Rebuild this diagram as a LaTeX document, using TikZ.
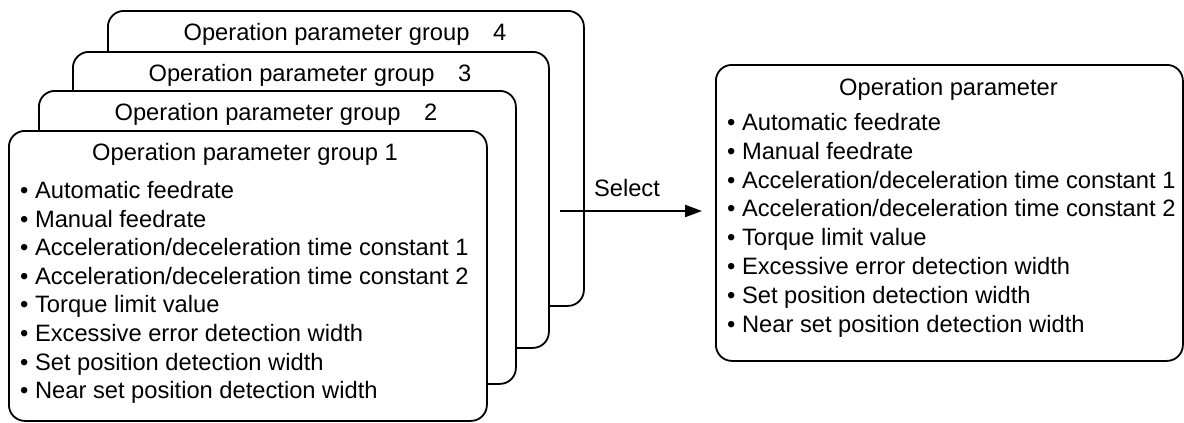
\documentclass[tikz,border=0pt]{standalone}
\usepackage{fontspec}
\setmainfont{Liberation Sans}
\usetikzlibrary{arrows.meta}
\begin{document}
\begin{tikzpicture}[x=1pt,y=-1pt,
  card/.style={draw, line width=1.8pt, rounded corners=16pt, fill=white, inner sep=0pt, anchor=north west},
  ttl/.style={anchor=base, inner sep=0pt, font=\fontsize{23.7}{28.7}\selectfont},
  itm/.style={anchor=base west, inner sep=0pt, font=\fontsize{23.7}{28.7}\selectfont},
  arr/.style={line width=2.2pt, -{Triangle[length=17pt,width=12pt]}}]
\useasboundingbox (0,0) rectangle (1184,423);
% stacked cards, back to front
\node[card, minimum width=476pt, minimum height=295pt] (g4) at (107,10) {};
\node[ttl] (t4) at (345,40) {Operation parameter group\hspace{1em}4};
\node[card, minimum width=476pt, minimum height=296pt] (g3) at (72,51) {};
\node[ttl] (t3) at (310,81) {Operation parameter group\hspace{1em}3};
\node[card, minimum width=477pt, minimum height=293pt] (g2) at (38,90) {};
\node[ttl] (t2) at (276,120) {Operation parameter group\hspace{1em}2};
\node[card, minimum width=478pt, minimum height=290pt] (g1) at (8,130) {};
\node[ttl] (t1) at (245,160) {Operation parameter group 1};
\foreach \txt [count=\i from 0] in {Automatic feedrate, Manual feedrate,
  Acceleration/deceleration time constant 1, Acceleration/deceleration time constant 2,
  Torque limit value, Excessive error detection width, Set position detection width,
  Near set position detection width}
  \node[itm] (a\i) at (20,{198.5+28.6*\i}) {• \txt};
% right card
\node[card, minimum width=467pt, minimum height=296pt] (op) at (715,64) {};
\node[ttl] (to) at (948.5,95) {Operation parameter};
\foreach \txt [count=\i from 0] in {Automatic feedrate, Manual feedrate,
  Acceleration/deceleration time constant 1, Acceleration/deceleration time constant 2,
  Torque limit value, Excessive error detection width, Set position detection width,
  Near set position detection width}
  \node[itm] (b\i) at (727,{130.5+28.8*\i}) {• \txt};
% arrow
\coordinate (s) at (560,211);
\coordinate (e) at ([xshift=-13pt]op.west |- s);
\draw[arr] (s) -- (e);
\node[ttl] (sel) at (627,196) {Select};
\end{tikzpicture}
\end{document}
